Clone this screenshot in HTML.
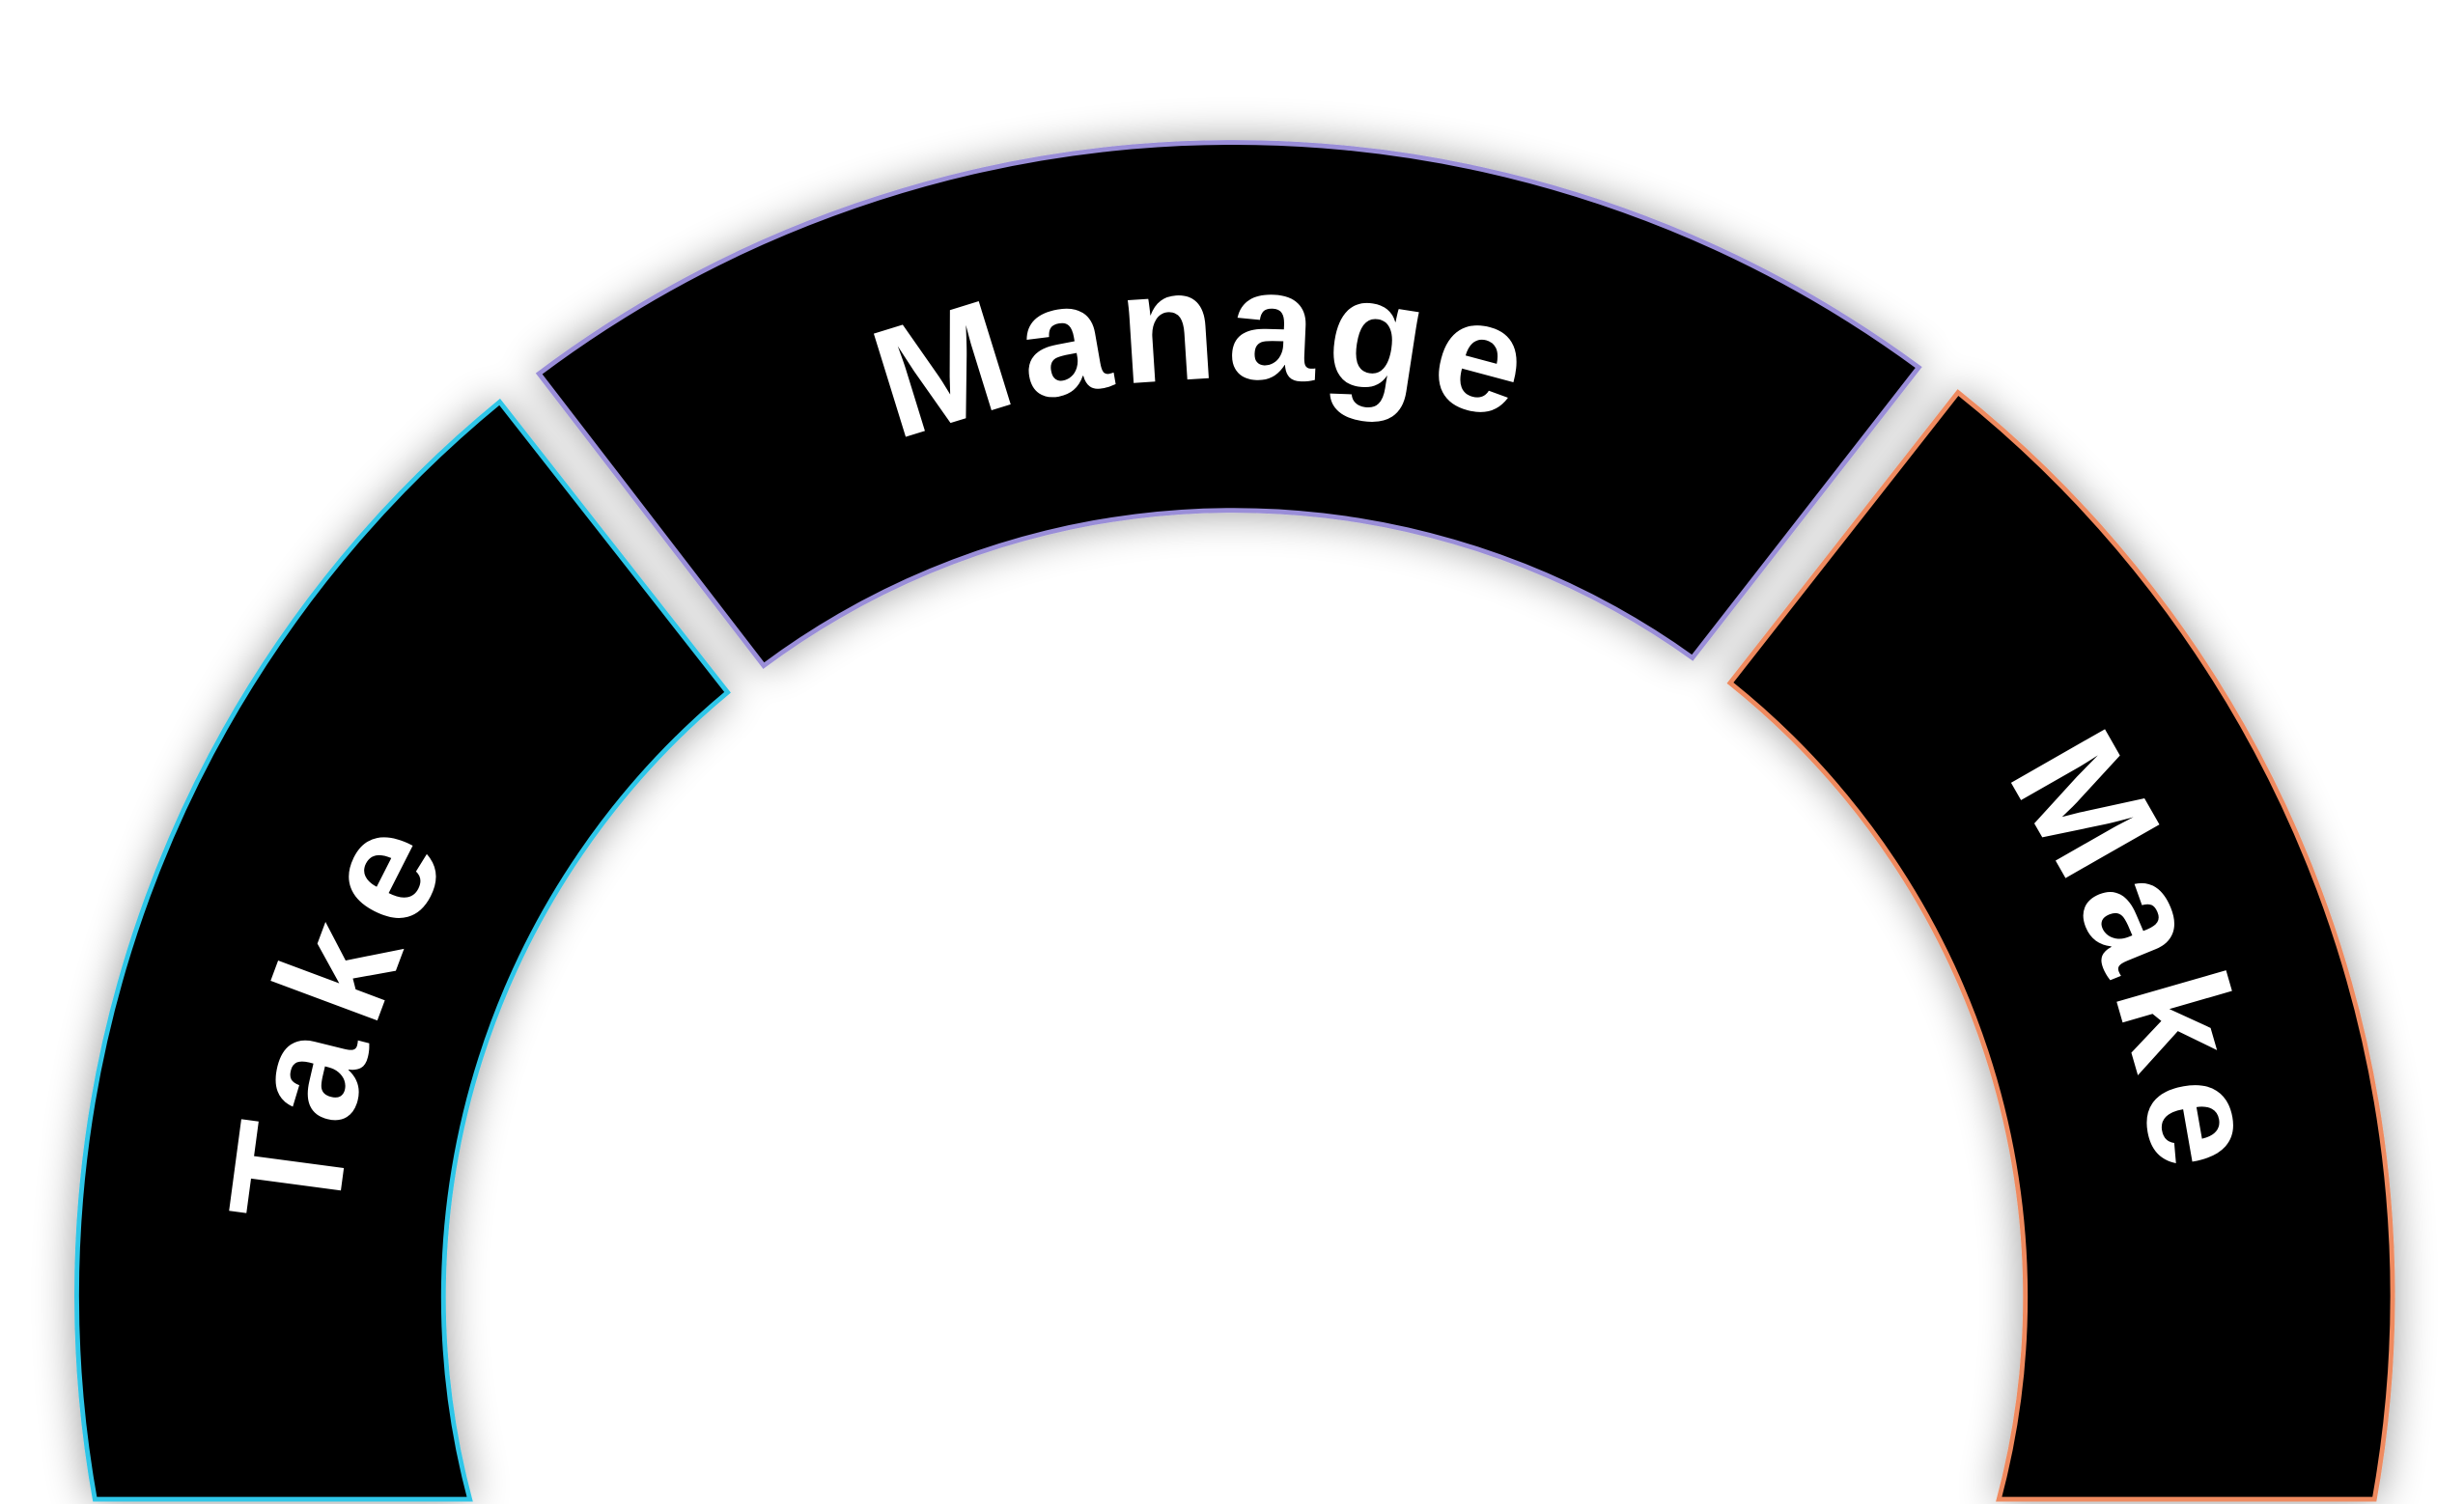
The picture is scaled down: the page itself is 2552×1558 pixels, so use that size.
<!DOCTYPE html>
<html><head><meta charset="utf-8"><style>
html,body{margin:0;padding:0;background:#fff;width:2552px;height:1558px;overflow:hidden}
svg{display:block}
text{font-family:"Liberation Sans",sans-serif;font-weight:bold;fill:#fff;font-size:100px}
</style></head><body>
<svg width="2552" height="1558" viewBox="0 0 1568 958" preserveAspectRatio="none" xmlns="http://www.w3.org/2000/svg">
<defs>
<filter id="sh" x="-20%" y="-20%" width="140%" height="140%">
<feGaussianBlur in="SourceAlpha" stdDeviation="13"/>
<feComponentTransfer><feFuncA type="linear" slope="0.4"/></feComponentTransfer>
<feMerge><feMergeNode/><feMergeNode in="SourceGraphic"/></feMerge>
</filter>
<path id="aT" d="M286 -495.4 A572 572 0 0 1 286 495.4"/>
<path id="aM" d="M292.5 -506.6 A585 585 0 0 1 292.5 506.6"/>
<path id="aK" d="M296 -512.7 A592 592 0 0 1 296 512.7"/>
</defs>
<g filter="url(#sh)" stroke-width="3">
<path d="M60.4 955 A736 736 0 0 1 318 256 L463 441 A501 501 0 0 0 299 955 Z" fill="#000" stroke="#2ec6e8"/>
<path d="M343 238 A736 736 0 0 1 1221 234 L1077 419 A501 501 0 0 0 486 424 Z" fill="#000" stroke="#9a8ed8"/>
<path d="M1246 250 A736 736 0 0 1 1511 955 L1272 955 A501 501 0 0 0 1101 435 Z" fill="#000" stroke="#ef8a5e"/>
</g>
<g transform="translate(785 826) rotate(197.3)"><text letter-spacing="9" text-anchor="middle"><textPath href="#aT" startOffset="50%">Take</textPath></text></g>
<g transform="translate(785 826) rotate(268.2)"><text letter-spacing="5" text-anchor="middle"><textPath href="#aM" startOffset="50%">Manage</textPath></text></g>
<g transform="translate(785 826) rotate(339.5)"><text letter-spacing="8" text-anchor="middle"><textPath href="#aK" startOffset="50%">Make</textPath></text></g>
</svg>
</body></html>
